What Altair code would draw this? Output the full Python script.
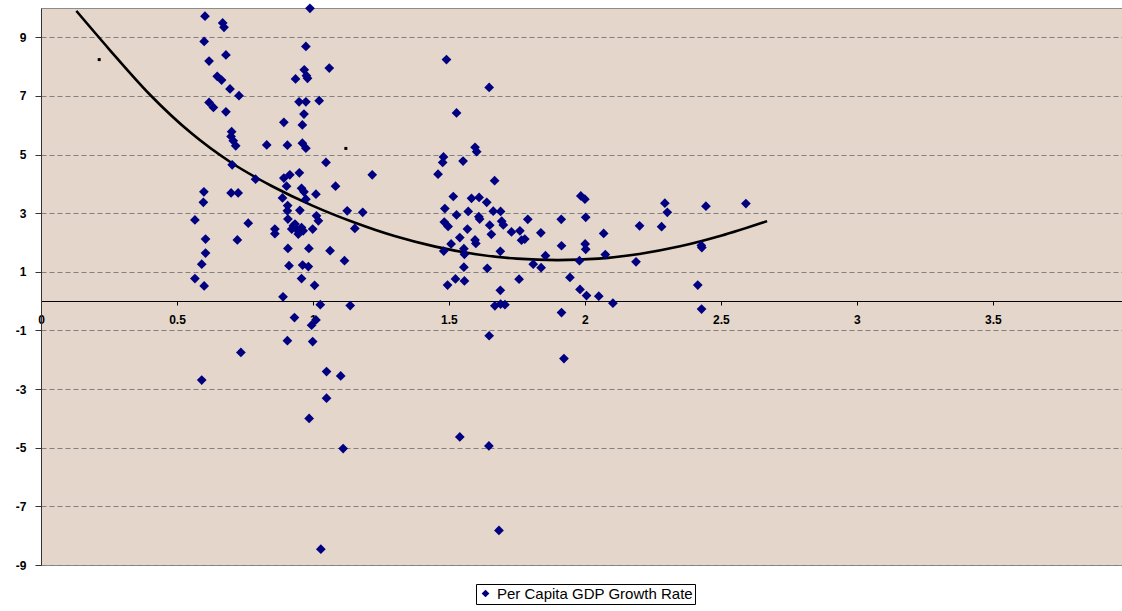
import altair as alt
import pandas as pd

# ---- data ----
gdp_x = [
    0.603, 0.668, 0.673, 0.600, 0.618, 0.680, 0.648, 0.664, 0.695, 0.728,
    0.618, 0.634, 0.680, 0.701, 0.699, 0.707, 0.716, 0.703, 0.599, 0.597,
    0.699, 0.725, 0.566, 0.605, 0.605, 0.591, 0.566, 0.600, 0.762, 0.722,
    0.789, 0.830, 0.591, 0.735,
    0.989, 0.974, 1.060, 0.968, 0.976, 0.980, 0.936, 0.949, 0.974, 1.023,
    0.967, 0.961, 0.893, 0.906, 0.961, 0.974, 1.048, 0.893, 0.915, 0.950,
    1.083, 1.218, 0.903, 0.888, 0.958, 0.967, 1.011, 0.907, 0.952, 0.906,
    0.974, 1.013, 1.020, 1.126, 1.183, 0.908, 0.928, 0.940, 0.950, 0.934,
    0.958, 0.946, 0.964, 0.922, 0.860, 0.860, 0.999, 1.154, 0.908, 0.985,
    1.063, 1.116, 0.912, 0.962, 0.983, 0.958, 1.006, 0.890, 1.027, 1.137,
    0.932, 1.011, 0.995, 0.906, 0.999, 1.050, 1.102, 1.050, 0.986, 1.111,
    1.029,
    1.491, 1.648, 1.528, 1.596, 1.602, 1.480, 1.477, 1.552, 1.460, 1.668,
    1.516, 1.583, 1.611, 1.639, 1.485, 1.571, 1.663, 1.690, 1.528, 1.610,
    1.613, 1.483, 1.497, 1.694, 1.700, 1.790, 1.913, 1.568, 1.650, 1.730,
    1.761, 1.838, 1.540, 1.596, 1.599, 1.656, 1.767, 1.779, 1.508, 1.481,
    1.555, 1.557, 1.689, 1.914, 1.855, 1.555, 1.641, 1.810, 1.839, 1.758,
    1.945, 1.524, 1.557, 1.495, 1.689, 1.669, 1.690, 1.706, 1.914, 1.648,
    1.923, 1.540, 1.647, 1.684,
    1.985, 2.000, 2.003, 2.069, 2.001, 2.003, 1.980, 2.075, 1.982, 2.006,
    2.051, 2.103, 2.201, 2.188, 2.294, 2.303, 2.282, 2.445, 2.592, 2.428,
    2.430, 2.415, 2.429,
]
gdp_y = [
    9.72, 9.49, 9.34, 8.86, 8.19, 8.40, 7.67, 7.54, 7.24, 7.01,
    6.78, 6.61, 6.46, 5.78, 5.62, 5.47, 5.30, 4.65, 3.73, 3.37,
    3.69, 3.69, 2.77, 2.12, 1.64, 1.26, 0.77, 0.52, 2.66, 2.09,
    4.16, 5.33, -2.69, -1.75,
    9.99, 8.69, 7.95, 7.89, 7.69, 7.60, 7.58, 6.80, 6.80, 6.84,
    6.38, 6.01, 6.10, 5.32, 5.39, 5.22, 4.73, 4.20, 4.31, 4.38,
    3.92, 4.31, 3.92, 3.52, 3.85, 3.73, 3.65, 3.26, 3.10, 3.08,
    3.48, 2.91, 2.74, 3.08, 3.03, 2.80, 2.57, 2.46, 2.34, 2.63,
    2.51, 2.29, 2.40, 2.46, 2.46, 2.30, 2.46, 2.48, 1.80, 1.80,
    1.72, 1.38, 1.21, 1.23, 1.18, 0.77, 0.54, 0.15, -0.12, -0.15,
    -0.56, -0.64, -0.82, -1.35, -1.38, -2.40, -2.55, -3.31, -4.00, -5.03,
    -8.46,
    8.24, 7.29, 6.42, 5.25, 5.10, 4.92, 4.73, 4.78, 4.33, 4.11,
    3.57, 3.51, 3.54, 3.37, 3.16, 3.06, 3.07, 3.06, 2.94, 2.88,
    2.80, 2.70, 2.55, 2.73, 2.60, 2.79, 2.79, 2.46, 2.59, 2.36,
    2.40, 2.33, 2.17, 2.09, 1.97, 2.28, 2.08, 2.12, 1.95, 1.71,
    1.79, 1.60, 1.70, 1.89, 1.55, 1.16, 1.12, 1.26, 1.14, 0.75,
    0.81, 0.76, 0.69, 0.55, 0.37, -0.16, -0.10, -0.12, -0.39, -1.18,
    -1.96, -4.63, -4.94, -7.82,
    3.59, 3.48, 2.86, 2.31, 1.95, 1.77, 1.38, 1.59, 0.40, 0.19,
    0.17, -0.07, 2.57, 1.34, 3.34, 3.03, 2.54, 3.24, 3.33, 1.90,
    1.83, 0.55, -0.27,
]
series_name = ["Per Capita GDP Growth Rate"] * len(gdp_x)

trend_x = [0.13, 0.25, 0.40, 0.55, 0.70, 0.85, 1.00, 1.15, 1.30, 1.45,
           1.60, 1.75, 1.90, 2.05, 2.20, 2.35, 2.50, 2.67]
trend_y = [9.90, 8.60, 7.05, 5.75, 4.72, 3.92, 3.25, 2.69, 2.22, 1.86,
           1.60, 1.45, 1.40, 1.45, 1.61, 1.87, 2.23, 2.73]

dot_x = [0.214, 1.121]
dot_y = [8.24, 5.21]

x_ticks = [0, 0.5, 1, 1.5, 2, 2.5, 3, 3.5]
y_ticks = [-9, -7, -5, -3, -1, 1, 3, 5, 7, 9]

pts = pd.DataFrame({"x": gdp_x, "y": gdp_y, "series": series_name})
trend = pd.DataFrame({"x": trend_x, "y": trend_y})
dots = pd.DataFrame({"x": dot_x, "y": dot_y})

FONT = "Liberation Sans"
xscale = alt.Scale(domain=[0, 3.975], nice=False, zero=False)
yscale = alt.Scale(domain=[-9, 10], nice=False, zero=False)

x_axis = alt.Axis(
    values=x_ticks, title=None, grid=False, offset=-264,
    labelExpr="datum.value",
    domainColor="black", domainWidth=1.2, tickColor="black", tickSize=4,
    labelFont=FONT, labelFontSize=12, labelFontWeight="bold", labelColor="black",
    labelPadding=9, labelFlush=False, labelOverlap=False,
)
y_axis = alt.Axis(
    values=y_ticks, title=None, grid=True, gridColor="#808080",
    labelExpr="datum.value",
    gridDash=[5, 3], gridWidth=1, domainColor="#333333", tickColor="#333333",
    tickSize=6, labelFont=FONT, labelFontSize=12, labelFontWeight="bold",
    labelColor="black", labelPadding=9,
)

points = alt.Chart(pts).mark_point(shape="diamond", filled=True, size=95, opacity=1).encode(
    x=alt.X("x:Q", scale=xscale, axis=x_axis),
    y=alt.Y("y:Q", scale=yscale, axis=y_axis),
    color=alt.Color(
        "series:N",
        scale=alt.Scale(domain=["Per Capita GDP Growth Rate"], range=["#000080"]),
        legend=alt.Legend(
            title=None, orient="none", legendX=435, legendY=576,
            direction="horizontal", symbolType="diamond", symbolSize=60,
            symbolStrokeWidth=0, labelFont=FONT, labelFontSize=15,
            labelLimit=0, labelColor="black", strokeColor="black",
            fillColor="white", padding=2, offset=0,
        ),
    ),
)

line = alt.Chart(trend).mark_line(color="black", strokeWidth=2.6, interpolate="monotone").encode(
    x=alt.X("x:Q", scale=xscale),
    y=alt.Y("y:Q", scale=yscale),
)

small = alt.Chart(dots).mark_square(color="black", size=9, opacity=1).encode(
    x=alt.X("x:Q", scale=xscale),
    y=alt.Y("y:Q", scale=yscale),
)

chart = (
    alt.layer(line, points, small)
    .properties(
        width=1081, height=557,
        autosize=alt.AutoSizeParams(type="none"),
        padding={"left": 41, "top": 8, "right": 0, "bottom": 46},
        background="white",
    )
    .configure_view(fill="#E4D6CA", stroke="#8c8c8c", strokeWidth=1)
)

chart.save("out.html", embed_options={"renderer": "svg", "actions": False})
